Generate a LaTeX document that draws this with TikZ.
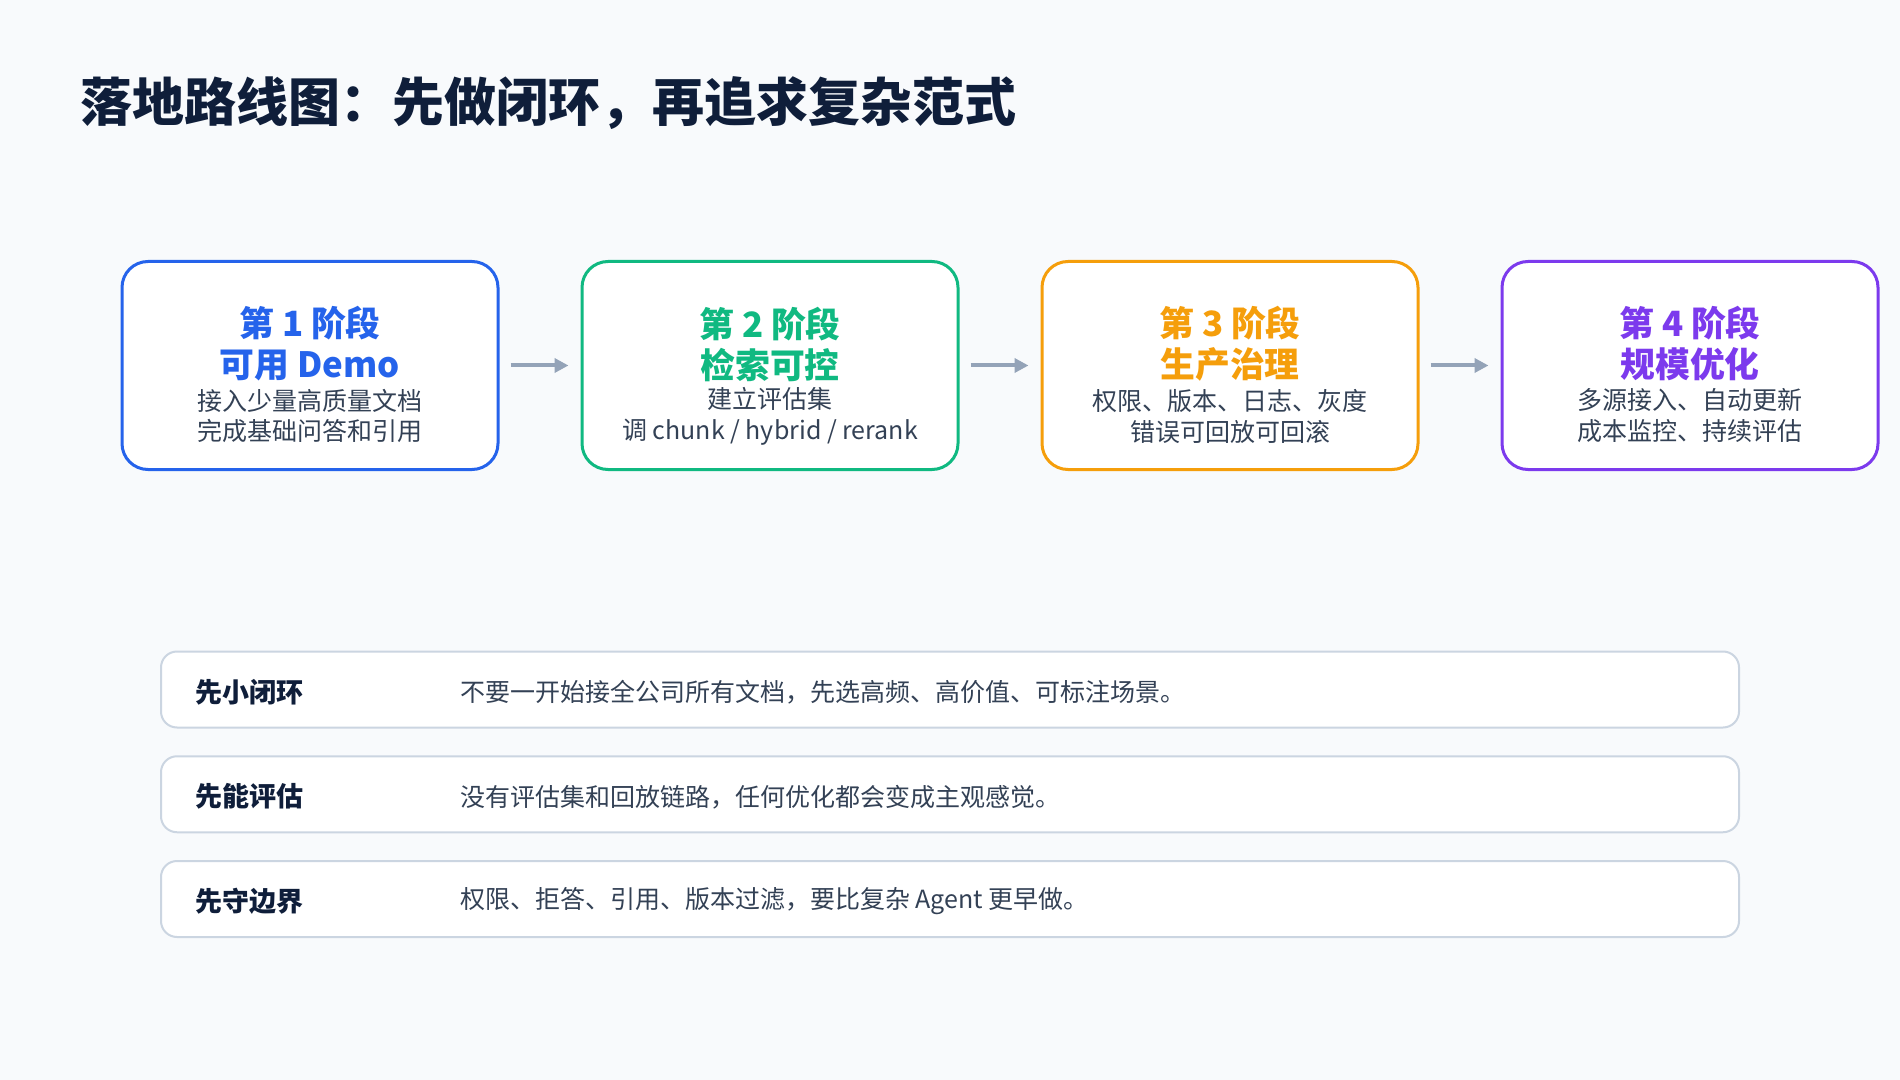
\documentclass[tikz,border=0pt]{standalone}
\usepackage{fontspec}
\setmainfont{Noto Sans CJK SC}
\usepackage{tikz}
\usetikzlibrary{arrows.meta,positioning}
\definecolor{bgcol}{HTML}{F8FAFC}
\definecolor{titlecol}{HTML}{0F1E3A}
\definecolor{subcol}{HTML}{334155}
\definecolor{stageblue}{HTML}{2563EB}
\definecolor{stagegreen}{HTML}{10B981}
\definecolor{stageorange}{HTML}{F59E0B}
\definecolor{stagepurple}{HTML}{7C3AED}
\definecolor{arrowgray}{HTML}{94A3B8}
\definecolor{rowborder}{HTML}{CBD5E1}
\tikzset{
  stagebox/.style={draw, fill=white, line width=1.5pt, rounded corners=13pt,
    minimum width=188pt, minimum height=104pt},
  headtext/.style={align=center, font=\fontsize{17.4}{20.5}\selectfont\bfseries},
  subtext/.style={align=center, text=subcol, font=\fontsize{12.5}{15.5}\selectfont},
  flowarrow/.style={draw=arrowgray, line width=2pt, -{Triangle[length=7pt,width=7pt]},
    shorten <=5.5pt, shorten >=6pt},
  rowbox/.style={draw=rowborder, fill=white, line width=1pt, rounded corners=8pt,
    minimum width=789pt, minimum height=38pt},
  rowlabel/.style={anchor=west, text=titlecol, font=\fontsize{13.5}{16}\selectfont\bfseries},
  rowdesc/.style={anchor=west, text=subcol, font=\fontsize{12.5}{16}\selectfont}
}
\begin{document}
\begin{tikzpicture}[x=0.5pt,y=-0.5pt]
    % background and canvas size
    \fill[bgcol] (0,0) rectangle (1900,1080);

    % title
    \node[anchor=west, text=titlecol, font=\fontsize{26}{31}\selectfont\bfseries] (title) at (73,103)
        {落地路线图：先做闭环，再追求复杂范式};

    % stage boxes
    \foreach \i/\col/\head/\lineA/\lineB in
    {
        1/stageblue/{可用 Demo}/接入少量高质量文档/完成基础问答和引用,
        2/stagegreen/检索可控/建立评估集/{调 chunk / hybrid / rerank},
        3/stageorange/生产治理/权限、版本、日志、灰度/错误可回放可回滚,
        4/stagepurple/规模优化/多源接入、自动更新/成本监控、持续评估
    } {
        \node[stagebox, draw=\col] (s\i) at ({310+460*(\i-1)},365.5) {};
        \node[headtext, text=\col] (h\i) at ({310+460*(\i-1)},344) {第 \i\ 阶段\\\head};
        \node[subtext] (t\i) at ({310+460*(\i-1)},416) {\lineA\\\lineB};
    }

    % arrows between stages
    \foreach \i in {1,2,3} {
        \pgfmathtruncatemacro{\j}{\i+1}
        \draw[flowarrow] (s\i) -- (s\j);
    }

    % principle rows
    \foreach \i/\lab/\desc in
    {
        1/先小闭环/不要一开始接全公司所有文档，先选高频、高价值、可标注场景。,
        2/先能评估/没有评估集和回放链路，任何优化都会变成主观感觉。,
        3/先守边界/权限、拒答、引用、版本过滤，要比复杂 Agent 更早做。
    } {
        \node[rowbox] (r\i) at (950,{689.5+104.75*(\i-1)}) {};
        \node[rowlabel] (l\i) at (188,{692+104.75*(\i-1)}) {\lab};
        \node[rowdesc] (d\i) at (453,{692+104.75*(\i-1)}) {\desc};
    }
\end{tikzpicture}
\end{document}
